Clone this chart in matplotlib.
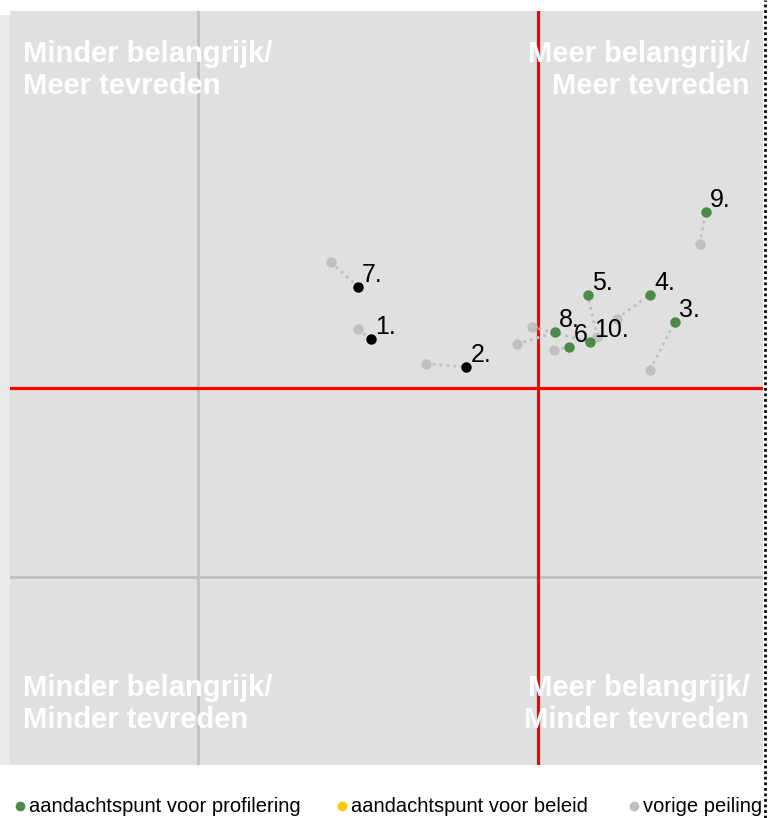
import matplotlib
matplotlib.use("Agg")
import matplotlib.pyplot as plt
from matplotlib.lines import Line2D
from matplotlib.patches import Rectangle

# Data (importance x, satisfaction y) on a 0-100 scale
labels = ["1.", "2.", "3.", "4.", "5.", "6", "7.", "8.", "9.", "10."]
cur_x = [47.9, 60.6, 88.3, 85.0, 76.7, 74.3, 46.2, 72.4, 92.4, 77.0]
cur_y = [56.5, 52.8, 58.8, 62.4, 62.4, 55.4, 63.4, 57.4, 73.4, 56.1]
prev_x = [46.2, 55.2, 85.0, 80.6, 78.0, 72.3, 42.6, 67.3, 91.6, 69.3]
prev_y = [57.8, 53.2, 52.4, 59.2, 56.8, 55.1, 66.7, 55.8, 69.1, 58.1]
category = ["base", "base", "prof", "prof", "prof", "prof", "base", "prof", "prof", "prof"]

mid_x = 70.1
mid_y = 50.0
grid_x = 25.0
grid_y = 25.0

quadrants = [
    ("Minder belangrijk/\nMeer tevreden", "tl"),
    ("Meer belangrijk/\nMeer tevreden", "tr"),
    ("Minder belangrijk/\nMinder tevreden", "bl"),
    ("Meer belangrijk/\nMinder tevreden", "br"),
]
legend_items = [
    ("aandachtspunt voor profilering", "#4b8a47"),
    ("aandachtspunt voor beleid", "#ffc800"),
    ("vorige peiling", "#c0c0c0"),
]

colors = {"base": "#000000", "prof": "#4b8a47"}
prev_color = "#c0c0c0"

plt.rcParams['font.family'] = ['Liberation Sans', 'DejaVu Sans']

W, H = 773, 818
fig = plt.figure(figsize=(W / 100, H / 100), dpi=100)

# light strip on the left
fig.add_artist(Rectangle((0, (H - 765) / H), 10 / W, 750 / H,
                         transform=fig.transFigure, color="#ebebeb", lw=0))

ax = fig.add_axes([10 / W, (H - 765) / H, 753 / W, 754 / H])
ax.set_facecolor("#e0e0e0")
ax.set_xlim(0, 100)
ax.set_ylim(0, 100)
for s in ax.spines.values():
    s.set_visible(False)
ax.set_xticks([])
ax.set_yticks([])

ax.axvline(grid_x, color="#c0c0c0", lw=2, zorder=1)
ax.axhline(grid_y, color="#c0c0c0", lw=2, zorder=1)
ax.axvline(mid_x, color="#ff0000", lw=2.3, zorder=2)
ax.axhline(mid_y, color="#ff0000", lw=2.3, zorder=2)

qfont = dict(color="white", fontsize=21, fontweight="bold", linespacing=1.18, zorder=3)
pos = {
    "tl": (0.017, 0.961, "left", "top"),
    "tr": (0.982, 0.961, "right", "top"),
    "bl": (0.017, 0.121, "left", "top"),
    "br": (0.982, 0.121, "right", "top"),
}
for txt, key in quadrants:
    x, y, ha, va = pos[key]
    ax.text(x, y, txt, transform=ax.transAxes, ha=ha, va=va,
            multialignment=ha, **qfont)

for i in range(len(labels)):
    ax.plot([prev_x[i], cur_x[i]], [prev_y[i], cur_y[i]], ls=(0, (1, 1.5)),
            color=prev_color, lw=2, zorder=4)
    ax.plot(prev_x[i], prev_y[i], "o", color=prev_color, ms=7.5, mec="none", zorder=5)
for i in range(len(labels)):
    ax.annotate(labels[i], (cur_x[i], cur_y[i]), xytext=(3, 3.5),
                textcoords="offset points", ha="left", va="baseline",
                fontsize=18, color="black", zorder=6)
for i in range(len(labels)):
    ax.plot(cur_x[i], cur_y[i], "o", color=colors[category[i]], ms=7.5,
            mec="none", zorder=7)

# legend
lx = [20, 342, 634]
for (txt, col), x in zip(legend_items, lx):
    fig.add_artist(Line2D([x / W], [1 - 806 / H], marker="o", color=col,
                          ms=7, mec="none", ls="none"))
    fig.text((x + 9) / W, 1 - 806 / H, txt, fontsize=14.5, va="center",
             ha="left", color="black")

# dotted border on right
fig.add_artist(Line2D([765 / W, 765 / W], [0, 1], color="black", lw=2,
                      ls=(0, (1, 1))))

fig.savefig("out.png", dpi=100)
